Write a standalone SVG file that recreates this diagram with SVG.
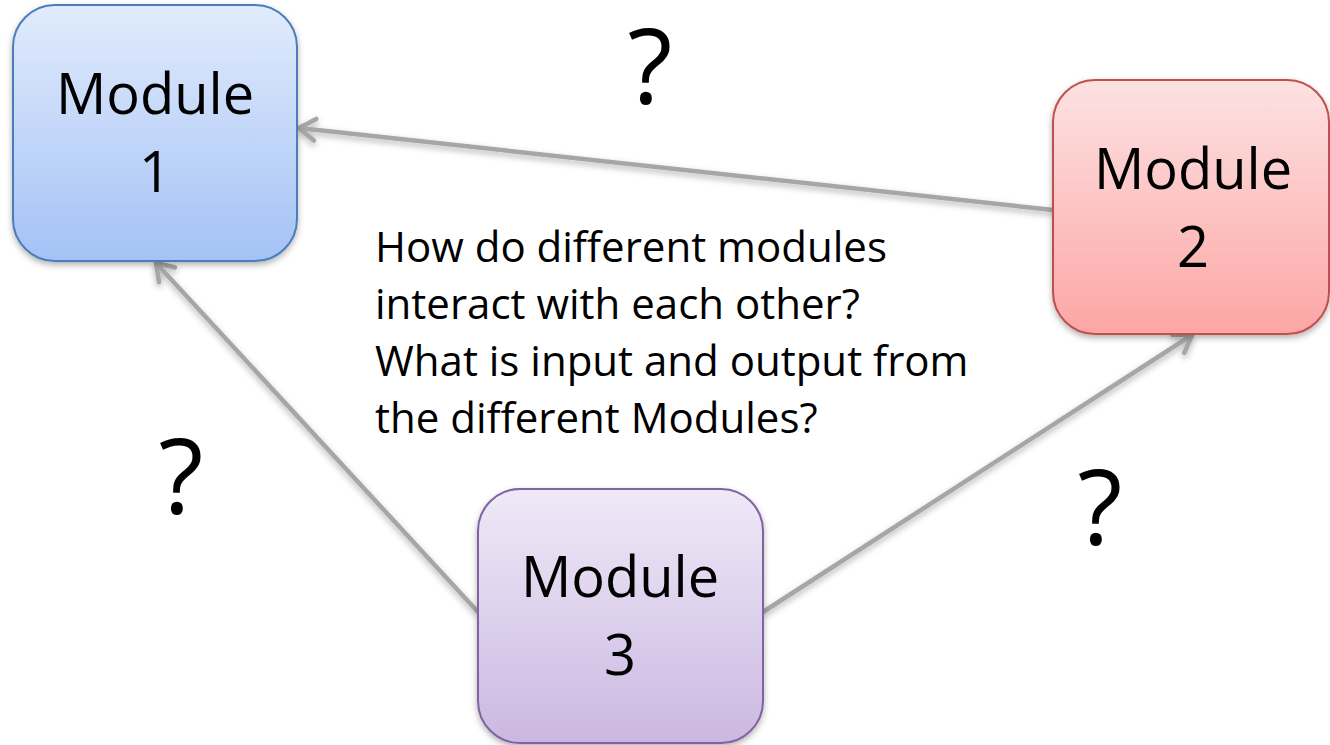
<svg xmlns="http://www.w3.org/2000/svg" width="1330" height="745" viewBox="0 0 1330 745">
<style>
.box{stroke-width:2}
.lbl{font-family:"Open Sans","Liberation Sans",sans-serif;font-size:56px;fill:#000;text-anchor:middle}
.q{font-family:"Open Sans","Liberation Sans",sans-serif;font-size:104px;fill:#000;text-anchor:middle}
.body{font-family:"Open Sans","Liberation Sans",sans-serif;font-size:42px;fill:#000}
.conn{stroke:#a6a6a6;stroke-width:4.5;fill:none;marker-end:url(#arr)}
</style>
<defs>
<linearGradient id="g1" x1="0" y1="0" x2="0" y2="1"><stop offset="0" stop-color="#e1ebfc"/><stop offset="1" stop-color="#a4c2f6"/></linearGradient>
<linearGradient id="g2" x1="0" y1="0" x2="0" y2="1"><stop offset="0" stop-color="#fde2e2"/><stop offset="1" stop-color="#fca6a5"/></linearGradient>
<linearGradient id="g3" x1="0" y1="0" x2="0" y2="1"><stop offset="0" stop-color="#efe9f7"/><stop offset="1" stop-color="#cbb8e2"/></linearGradient>
<filter id="sh" x="-10%" y="-10%" width="120%" height="130%"><feDropShadow dx="0" dy="3" stdDeviation="3" flood-color="#000" flood-opacity="0.3"/></filter>
<marker id="arr" viewBox="0 0 10 10" refX="9" refY="5" markerWidth="6" markerHeight="6" orient="auto" markerUnits="strokeWidth">
<path d="M3,1 L9,5 L3,9" fill="none" stroke="#a6a6a6" stroke-width="1.7" stroke-linecap="round" stroke-linejoin="round"/>
</marker>
</defs>
<g id="connectors" filter="url(#sh)">
<line class="conn" x1="1053" y1="210" x2="299" y2="128"/>
<line class="conn" x1="478" y1="612" x2="156" y2="263"/>
<line class="conn" x1="763" y1="612" x2="1192" y2="335"/>
</g>
<g id="module1">
<rect class="box" x="13" y="5" width="284" height="256" rx="42" fill="url(#g1)" stroke="#4a7ebb" filter="url(#sh)"/>
<text class="lbl" x="155" y="114">Module</text>
<text class="lbl" x="155" y="192">1</text>
</g>
<g id="module2">
<rect class="box" x="1053" y="80" width="276" height="254" rx="42" fill="url(#g2)" stroke="#c0504d" filter="url(#sh)"/>
<text class="lbl" x="1193" y="189">Module</text>
<text class="lbl" x="1193" y="267">2</text>
</g>
<g id="module3">
<rect class="box" x="478" y="489" width="285" height="254" rx="42" fill="url(#g3)" stroke="#8064a2" filter="url(#sh)"/>
<text class="lbl" x="620" y="597">Module</text>
<text class="lbl" x="620" y="675">3</text>
</g>
<g id="labels">
<text class="q" x="650" y="104">?</text>
<text class="q" x="181" y="514">?</text>
<text class="q" x="1100" y="545">?</text>
<text class="body" x="375" y="262">How do different modules</text>
<text class="body" x="375" y="319">interact with each other?</text>
<text class="body" x="375" y="376">What is input and output from</text>
<text class="body" x="375" y="433">the different Modules?</text>
</g>
</svg>
